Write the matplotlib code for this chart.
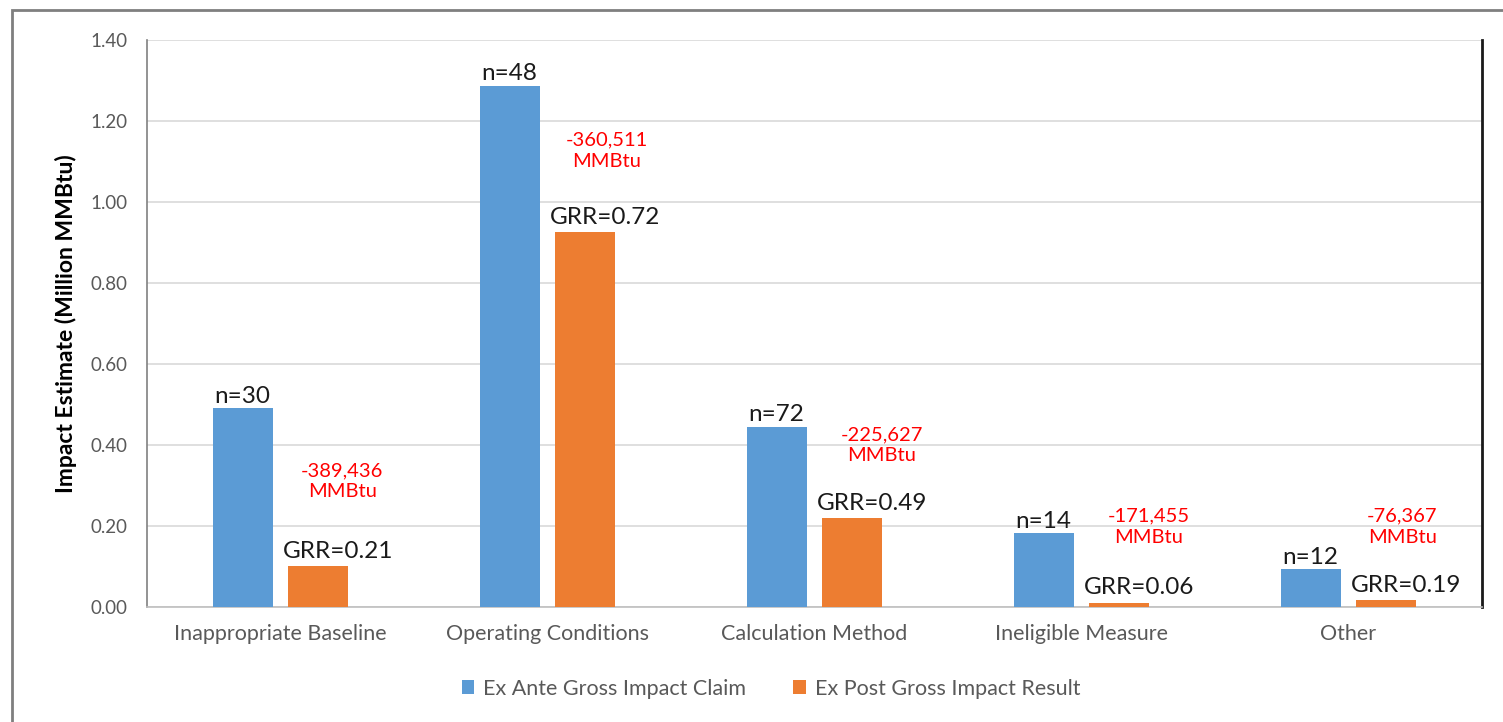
import numpy as np
import matplotlib
matplotlib.use("Agg")
import matplotlib.pyplot as plt
from matplotlib.patches import Rectangle

plt.rcParams["font.family"] = ["Lato", "DejaVu Sans"]

# Impact estimates by adjustment reason (million MMBtu)
categories = ["Inappropriate Baseline", "Operating Conditions", "Calculation Method",
              "Ineligible Measure", "Other"]
ex_ante = [0.491, 1.287, 0.445, 0.182, 0.093]
ex_post = [0.101, 0.925, 0.219, 0.011, 0.018]
sample_n = [30, 48, 72, 14, 12]
grr = [0.21, 0.72, 0.49, 0.06, 0.19]
diff_mmbtu = ["-389,436", "-360,511", "-225,627", "-171,455", "-76,367"]

# placement of the red difference notes (x offset from orange bar, y in data units)
note_dx = [0.09, 0.08, 0.11, 0.11, 0.06]
note_y = [0.311, 1.126, 0.400, 0.198, 0.198]

BLUE = "#5B9BD5"
ORANGE = "#ED7D31"
GREY = "#595959"

fig = plt.figure(figsize=(15.03, 7.22), dpi=100)
ax = fig.add_axes([0.0978, 0.1593, 0.8882, 0.7853])

x = np.arange(len(categories))
w = 0.225
off = 0.142
b1 = ax.bar(x - off, ex_ante, w, color=BLUE, label="Ex Ante Gross Impact Claim", zorder=3)
b2 = ax.bar(x + off, ex_post, w, color=ORANGE, label="Ex Post Gross Impact Result", zorder=3)

for i in range(len(categories)):
    ax.annotate(f"n={sample_n[i]}", (x[i] - off, ex_ante[i]), xytext=(0, 1),
                textcoords="offset points", ha="center", va="bottom", fontsize=17.5, color="#1a1a1a")
    ax.annotate(f"GRR={grr[i]:.2f}", (x[i] + off - w / 2 - 0.02, ex_post[i]), xytext=(0, 3),
                textcoords="offset points", ha="left", va="bottom", fontsize=17.5, color="#1a1a1a")
    ax.text(x[i] + off + note_dx[i], note_y[i], f"{diff_mmbtu[i]}\nMMBtu", ha="center", va="center",
            fontsize=14.5, color="#FF0000", linespacing=1.3)

ax.set_xlim(-0.5, len(categories) - 0.5)
ax.set_ylim(0, 1.4)
ax.set_yticks(np.arange(0, 1.41, 0.2))
ax.yaxis.set_major_formatter(matplotlib.ticker.FormatStrFormatter("%.2f"))
ax.set_xticks(x)
ax.set_xticklabels(categories)
ax.tick_params(axis="y", length=0, labelsize=13.5, colors=GREY, pad=14)
ax.tick_params(axis="x", length=0, labelsize=15.5, colors=GREY, pad=12)
ax.grid(axis="y", color="#d9d9d9", linewidth=1.2, zorder=0)

ax.spines["top"].set_visible(False)
ax.spines["left"].set_color("#808080")
ax.spines["left"].set_linewidth(1.2)
ax.spines["bottom"].set_color("#bfbfbf")
ax.spines["bottom"].set_linewidth(1.2)
ax.spines["right"].set_color("#1a1a1a")
ax.spines["right"].set_linewidth(2)

ax.set_ylabel("Impact Estimate (Million MMBtu)", fontsize=16.5, fontweight="bold", labelpad=10)

fig.legend(handles=[b1, b2], loc="center", bbox_to_anchor=(0.513, 0.046), ncol=2, frameon=False,
           fontsize=15.5, labelcolor=GREY, handlelength=0.6, handleheight=0.6, handletextpad=0.4,
           columnspacing=2.2)

# frame round the whole chart
fig.patches.append(Rectangle((12 / 1503, -0.05), 1.0, 1 - 10 / 722 + 0.05, transform=fig.transFigure,
                             fill=False, edgecolor="#7f7f7f", linewidth=2))

fig.savefig("out.png", dpi=100)
